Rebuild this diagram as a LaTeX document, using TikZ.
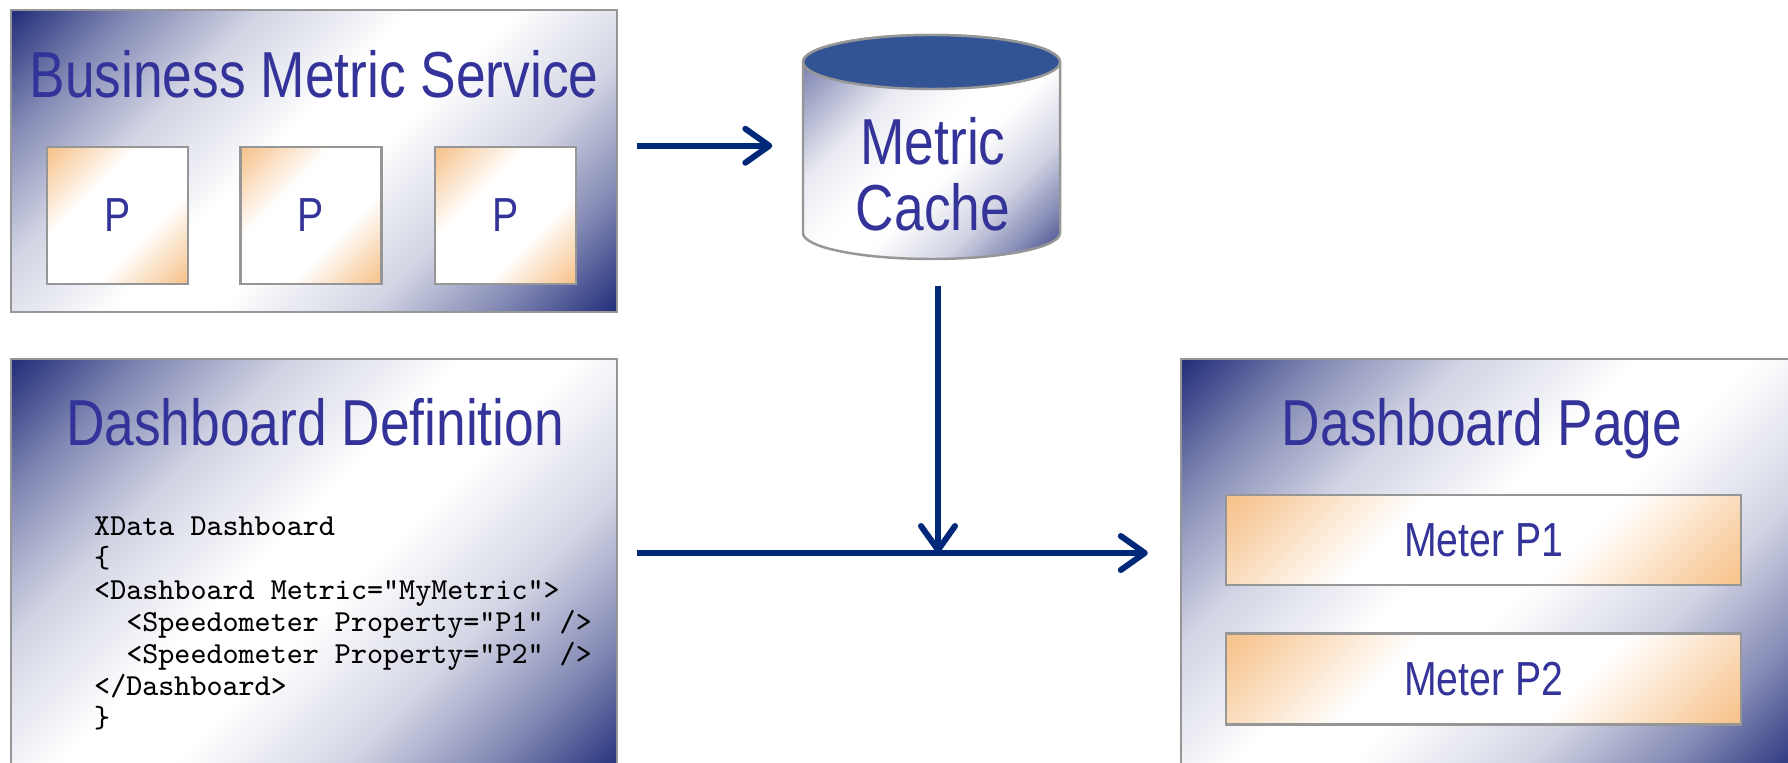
\documentclass[tikz,border=0pt]{standalone}
\usepackage{fontspec}
\setmainfont{Liberation Sans}
\newfontfamily\narrowsans[FakeStretch=0.82]{Liberation Sans}
\usetikzlibrary{positioning,arrows.meta}

\definecolor{inkblue}{RGB}{51,51,153}
\definecolor{deepnavy}{RGB}{28,40,118}
\definecolor{capblue}{RGB}{51,84,148}
\definecolor{flowblue}{RGB}{0,40,120}
\definecolor{rimgray}{RGB}{150,150,150}
\definecolor{peach}{RGB}{247,196,142}

% diagonal glow: dark corner, white middle, dark corner
\pgfdeclarehorizontalshading{navyglow}{100bp}{%
  color(0bp)=(deepnavy); color(14bp)=(deepnavy); color(24bp)=(deepnavy!55!white);
  color(34bp)=(deepnavy!20!white); color(46bp)=(white); color(54bp)=(white);
  color(66bp)=(deepnavy!20!white); color(76bp)=(deepnavy!55!white);
  color(86bp)=(deepnavy); color(100bp)=(deepnavy)}
% same, but the cylinder starts lighter at its top left
\pgfdeclarehorizontalshading{cylglow}{100bp}{%
  color(0bp)=(deepnavy!60!white); color(18bp)=(deepnavy!60!white);
  color(36bp)=(deepnavy!10!white); color(48bp)=(white); color(56bp)=(white);
  color(68bp)=(deepnavy!20!white); color(78bp)=(deepnavy!55!white);
  color(88bp)=(deepnavy); color(100bp)=(deepnavy)}
\pgfdeclarehorizontalshading{peachglow}{100bp}{%
  color(0bp)=(peach); color(16bp)=(peach); color(38bp)=(white);
  color(62bp)=(white); color(84bp)=(peach); color(100bp)=(peach)}

\begin{document}
\begin{tikzpicture}[%
    >={Straight Barb[length=2.4mm,width=3.4mm,round]}, % open chevron tips
    node distance=5mm and 5mm,
    ]
% -------------------------------------------------
% Box and line styles
\tikzset{
  base/.style={draw=rimgray, line width=0.7pt, inner sep=0pt},
  panel/.style={base, rectangle, shading=navyglow, shading angle=-45},
  part/.style={base, rectangle, shading=peachglow, shading angle=-45,
    text=inkblue, font=\narrowsans\fontsize{13.6}{16}\selectfont},
  title/.style={anchor=base, inner sep=0pt, text=inkblue,
    font=\narrowsans\fontsize{18.5}{18.8}\selectfont},
  code/.style={anchor=north west, inner sep=0pt, align=left,
    font=\ttfamily\fontsize{8.7}{9.1}\selectfont},
  flow/.style={->, draw=flowblue, line width=1.7pt},
}
\useasboundingbox (0,0) rectangle (17.88,-7.63);
\clip (0,0) rectangle (17.88,-7.63);
% -------------------------------------------------
% Business metric service with its three properties
\node [panel, minimum width=6.06cm, minimum height=3.02cm] (bms) at (3.14,-1.61) {};
\node [title] (bmstitle) at (3.14,-0.98) {Business Metric Service};
\node [part, minimum width=1.41cm, minimum height=1.37cm] (p1) at (1.175,-2.155) {P};
\node [part, minimum width=1.41cm, minimum height=1.37cm, right=0.5cm of p1] (p2) {P};
\node [part, minimum width=1.41cm, minimum height=1.37cm, right=0.51cm of p2] (p3) {P};

% Metric cache cylinder
\shade [shading=cylglow, shading angle=-45, draw=rimgray, line width=0.7pt]
  (8.03,-0.62) -- (8.03,-2.33)
  arc [start angle=180, end angle=360, x radius=1.285, y radius=0.26]
  -- (10.60,-0.62)
  arc [start angle=0, end angle=180, x radius=1.285, y radius=0.27] -- cycle;
\filldraw [fill=capblue, draw=rimgray, line width=0.7pt]
  (9.315,-0.62) ellipse [x radius=1.285, y radius=0.27];
\node [inner sep=0pt, minimum width=2.57cm, minimum height=2.24cm] (cache) at (9.315,-1.47) {};
\node [title, anchor=center, align=center] (cachetext) at (9.33,-1.74) {Metric\\Cache};

% Dashboard definition
\node [panel, minimum width=6.06cm, minimum height=4.16cm] (dd) at (3.14,-5.67) {};
\node [title] (ddtitle) at (3.15,-4.46) {Dashboard Definition};
\node [code] (ddcode) at (0.935,-5.16) {%
XData Dashboard\\
\{\\
<Dashboard Metric="MyMetric">\\
\phantom{xx}<Speedometer Property="P1“ />\\
\phantom{xx}<Speedometer Property="P2" />\\
</Dashboard>\\
\}};

% Dashboard page with two meters
\node [panel, minimum width=6.19cm, minimum height=4.16cm] (dp) at (14.905,-5.67) {};
\node [title] (dptitle) at (14.82,-4.46) {Dashboard Page};
\node [part, minimum width=5.15cm, minimum height=0.90cm] (m1) at (14.835,-5.40) {Meter P1};
\node [part, minimum width=5.15cm, minimum height=0.91cm, below=0.46cm of m1] (m2) {Meter P2};

% -------------------------------------------------
% Connectors
\coordinate (merge) at (9.38,-5.53);
\draw [flow, shorten <=0.19cm, shorten >=0.30cm] (bms.east |- p3.north) -- (cache.west |- p3.north);
\draw [flow, shorten <=0.26cm] (merge |- cache.south) -- (merge);
\draw [flow, shorten <=0.19cm, shorten >=0.32cm] (dd.east |- merge) -- (dp.west |- merge);
\end{tikzpicture}
\end{document}
